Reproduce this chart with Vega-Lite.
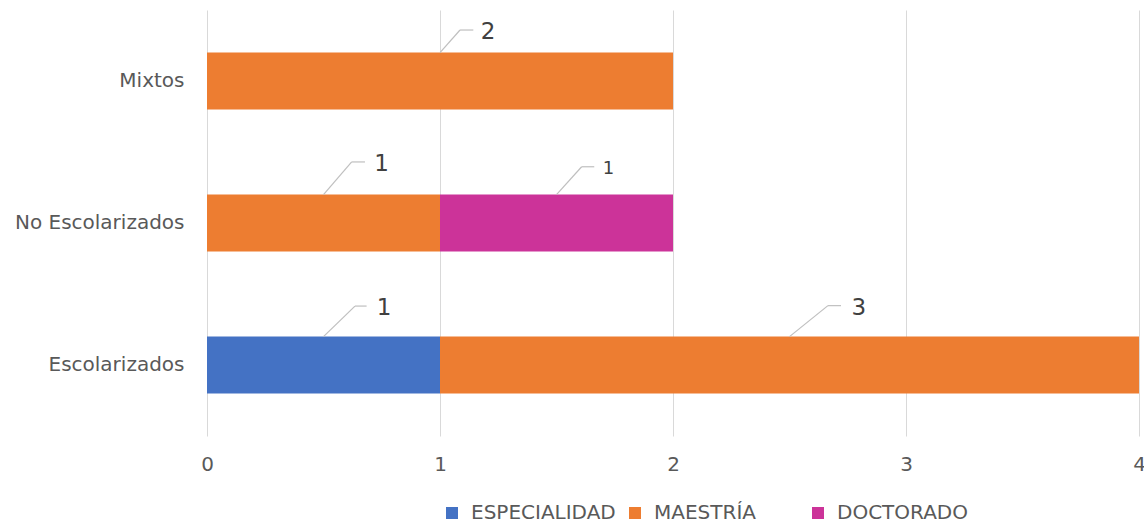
{
  "$schema": "https://vega.github.io/schema/vega-lite/v6.json",
  "width": 932,
  "height": 426,
  "autosize": {"type": "none"},
  "padding": {"left": 207, "top": 10, "right": 5, "bottom": 87},
  "background": "white",
  "config": {"view": {"stroke": null}, "font": "DejaVu Sans"},
  "datasets": {
    "barras": [
      {"categoria": "Escolarizados", "nivel": "ESPECIALIDAD", "orden": 1, "valor": 1},
      {"categoria": "Escolarizados", "nivel": "MAESTRÍA", "orden": 2, "valor": 3},
      {"categoria": "No Escolarizados", "nivel": "MAESTRÍA", "orden": 2, "valor": 1},
      {"categoria": "No Escolarizados", "nivel": "DOCTORADO", "orden": 3, "valor": 1},
      {"categoria": "Mixtos", "nivel": "MAESTRÍA", "orden": 2, "valor": 2}
    ],
    "etiquetas": [
      {"categoria": "Mixtos", "nivel": "MAESTRÍA", "texto": "2", "x0": 1.0, "x1": 1.086, "xh": 1.143, "y0": 2.2, "y1": 2.359, "xl": 1.206},
      {"categoria": "No Escolarizados", "nivel": "MAESTRÍA", "texto": "1", "x0": 0.5, "x1": 0.621, "xh": 0.678, "y0": 1.2, "y1": 1.43, "xl": 0.749},
      {"categoria": "No Escolarizados", "nivel": "DOCTORADO", "texto": "1", "x0": 1.5, "x1": 1.608, "xh": 1.662, "y0": 1.2, "y1": 1.396, "xl": 1.723},
      {"categoria": "Escolarizados", "nivel": "ESPECIALIDAD", "texto": "1", "x0": 0.5, "x1": 0.635, "xh": 0.685, "y0": 0.2, "y1": 0.415, "xl": 0.76},
      {"categoria": "Escolarizados", "nivel": "MAESTRÍA", "texto": "3", "x0": 2.5, "x1": 2.665, "xh": 2.721, "y0": 0.2, "y1": 0.418, "xl": 2.798}
    ]
  },
  "layer": [
    {
      "data": {"name": "barras"},
      "mark": {"type": "bar"},
      "encoding": {
        "y": {
          "field": "categoria",
          "type": "nominal",
          "sort": ["Mixtos", "No Escolarizados", "Escolarizados"],
          "scale": {"paddingInner": 0.6, "paddingOuter": 0.3},
          "axis": {
            "title": null,
            "ticks": false,
            "tickSize": 0,
            "domain": false,
            "grid": false,
            "labelPadding": 23,
            "labelFontSize": 20,
            "labelColor": "#595959",
            "labelFont": "DejaVu Sans"
          }
        },
        "x": {
          "field": "valor",
          "type": "quantitative",
          "stack": "zero",
          "scale": {"domain": [0, 4], "nice": false},
          "axis": {
            "title": null,
            "values": [0, 1, 2, 3, 4],
            "format": "d",
            "ticks": false,
            "tickSize": 0,
            "domain": false,
            "grid": true,
            "gridColor": "#D9D9D9",
            "gridWidth": 1,
            "labelPadding": 18,
            "labelFontSize": 20,
            "labelColor": "#595959",
            "labelFont": "DejaVu Sans",
            "labelFlush": false
          }
        },
        "color": {
          "field": "nivel",
          "type": "nominal",
          "scale": {
            "domain": ["ESPECIALIDAD", "MAESTRÍA", "DOCTORADO"],
            "range": ["#4472C4", "#ED7D31", "#CC3399"]
          },
          "legend": {
            "title": null,
            "orient": "none",
            "direction": "horizontal",
            "legendX": 235,
            "legendY": 493,
            "padding": 0,
            "gridAlign": "all",
            "symbolType": "square",
            "symbolSize": 144,
            "symbolStrokeWidth": 0,
            "labelFontSize": 20,
            "labelFont": "DejaVu Sans",
            "labelColor": "#595959",
            "labelOffset": 9,
            "columnPadding": 9
          }
        },
        "order": {"field": "orden", "type": "quantitative"}
      }
    },
    {
      "data": {"name": "etiquetas"},
      "mark": {"type": "rule", "color": "#BFBFBF", "strokeWidth": 1.2},
      "encoding": {
        "x": {"field": "x0", "type": "quantitative"},
        "x2": {"field": "x1"},
        "y": {"field": "y0", "type": "quantitative", "scale": {"domain": [-0.5, 2.5], "nice": false, "zero": false}, "axis": null},
        "y2": {"field": "y1"}
      }
    },
    {
      "data": {"name": "etiquetas"},
      "mark": {"type": "rule", "color": "#BFBFBF", "strokeWidth": 1.2},
      "encoding": {
        "x": {"field": "x1", "type": "quantitative"},
        "x2": {"field": "xh"},
        "y": {"field": "y1", "type": "quantitative", "scale": {"domain": [-0.5, 2.5], "nice": false, "zero": false}, "axis": null}
      }
    },
    {
      "data": {"name": "etiquetas"},
      "transform": [{"filter": "datum.nivel !== 'DOCTORADO'"}],
      "mark": {"type": "text", "font": "DejaVu Sans", "fontSize": 23, "color": "#404040", "align": "center", "baseline": "middle", "dy": 2},
      "encoding": {
        "x": {"field": "xl", "type": "quantitative"},
        "y": {"field": "y1", "type": "quantitative", "scale": {"domain": [-0.5, 2.5], "nice": false, "zero": false}, "axis": null},
        "text": {"field": "texto"}
      }
    },
    {
      "data": {"name": "etiquetas"},
      "transform": [{"filter": "datum.nivel === 'DOCTORADO'"}],
      "mark": {"type": "text", "font": "DejaVu Sans", "fontSize": 18, "color": "#404040", "align": "center", "baseline": "middle", "dy": 2},
      "encoding": {
        "x": {"field": "xl", "type": "quantitative"},
        "y": {"field": "y1", "type": "quantitative", "scale": {"domain": [-0.5, 2.5], "nice": false, "zero": false}, "axis": null},
        "text": {"field": "texto"}
      }
    }
  ],
  "resolve": {"scale": {"y": "independent"}}
}
